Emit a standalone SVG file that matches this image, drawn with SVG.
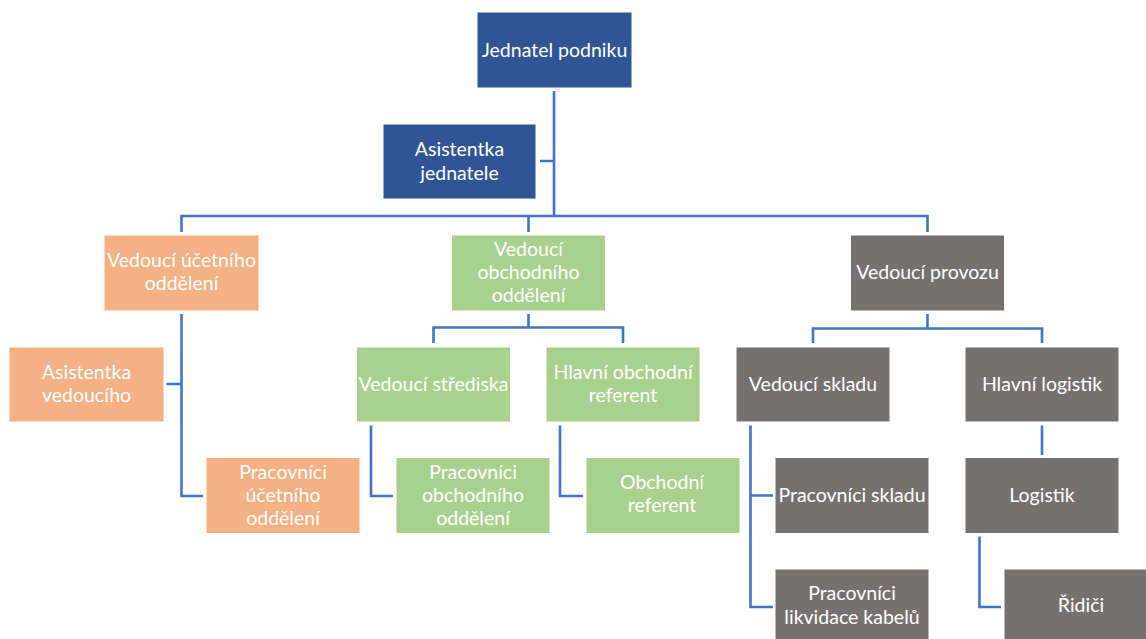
<svg xmlns="http://www.w3.org/2000/svg" width="1146" height="639" viewBox="0 0 1146 639">
<style>
.b{stroke:#ffffff;stroke-width:1}
.blue{fill:#2F5597}
.org{fill:#F4B183}
.grn{fill:#A9D18E}
.gry{fill:#767171}
text{font-family:Lato,"Open Sans","DejaVu Sans",sans-serif;font-size:19.5px;fill:#ffffff;text-anchor:middle}
.c{fill:none;stroke:#4472C4;stroke-width:2.6}
</style>
<rect width="1146" height="639" fill="#ffffff"/>
<g id="connectors">
<path class="c" d="M554 91V216M540 161H554"/>
<path class="c" d="M181.5 232V216H927.5V232M528.5 216V232"/>
<path class="c" d="M181.5 314V496H203M166.5 384H181.5"/>
<path class="c" d="M528.5 314V327.5M433.5 343V327.5H623V343"/>
<path class="c" d="M371 425.5V496H393M560 425.5V496H583"/>
<path class="c" d="M927.5 314V328.5M813 343V328.5H1042V343"/>
<path class="c" d="M750.5 425.5V607H773M750.5 495.5H773"/>
<path class="c" d="M1042 425.5V455M979.5 536.5V607H1001"/>
</g>
<g id="n-jednatel"><rect class="b blue" x="477" y="12" width="155" height="76"/><text x="554.5" y="57">Jednatel podniku</text></g>
<g id="n-asistentka-jednatele"><rect class="b blue" x="383" y="124" width="153" height="75"/><text x="459.5" y="156">Asistentka</text><text x="459.5" y="179.5">jednatele</text></g>
<g id="n-vedouci-ucetniho"><rect class="b org" x="104" y="235" width="155" height="76"/><text x="181.5" y="267">Vedoucí účetního</text><text x="181.5" y="290">oddělení</text></g>
<g id="n-vedouci-obchodniho"><rect class="b grn" x="451.5" y="235" width="154" height="76"/><text x="528.5" y="255.5">Vedoucí</text><text x="528.5" y="279">obchodního</text><text x="528.5" y="302">oddělení</text></g>
<g id="n-vedouci-provozu"><rect class="b gry" x="850.5" y="235" width="154" height="76"/><text x="927.5" y="279">Vedoucí provozu</text></g>
<g id="n-asistentka-vedouciho"><rect class="b org" x="9" y="347" width="155" height="75"/><text x="86.5" y="379">Asistentka</text><text x="86.5" y="402">vedoucího</text></g>
<g id="n-pracovnici-ucetniho"><rect class="b org" x="206" y="457.5" width="154" height="76"/><text x="283" y="478.5">Pracovníci</text><text x="283" y="502">účetního</text><text x="283" y="524.5">oddělení</text></g>
<g id="n-vedouci-strediska"><rect class="b grn" x="356.5" y="347" width="154" height="75"/><text x="433.5" y="391">Vedoucí střediska</text></g>
<g id="n-hlavni-obchodni"><rect class="b grn" x="546" y="347" width="154" height="75"/><text x="623" y="379">Hlavní obchodní</text><text x="623" y="402">referent</text></g>
<g id="n-pracovnici-obchodniho"><rect class="b grn" x="396" y="457.5" width="154" height="76"/><text x="473" y="478.5">Pracovníci</text><text x="473" y="502">obchodního</text><text x="473" y="524.5">oddělení</text></g>
<g id="n-obchodni-referent"><rect class="b grn" x="586" y="457.5" width="154" height="76"/><text x="662" y="488.5">Obchodní</text><text x="662" y="512">referent</text></g>
<g id="n-vedouci-skladu"><rect class="b gry" x="736" y="347" width="154" height="75"/><text x="813" y="391">Vedoucí skladu</text></g>
<g id="n-hlavni-logistik"><rect class="b gry" x="965" y="347" width="154" height="75"/><text x="1042" y="391">Hlavní logistik</text></g>
<g id="n-pracovnici-skladu"><rect class="b gry" x="775" y="457.5" width="154" height="76"/><text x="852" y="502">Pracovníci skladu</text></g>
<g id="n-logistik"><rect class="b gry" x="965" y="457.5" width="154" height="76"/><text x="1042" y="502">Logistik</text></g>
<g id="n-pracovnici-likvidace"><rect class="b gry" x="775" y="569" width="154" height="76"/><text x="852" y="600">Pracovníci</text><text x="852" y="623.5">likvidace kabelů</text></g>
<g id="n-ridici"><rect class="b gry" x="1004" y="569" width="154" height="76"/><text x="1081" y="612">Řidiči</text></g>
</svg>
